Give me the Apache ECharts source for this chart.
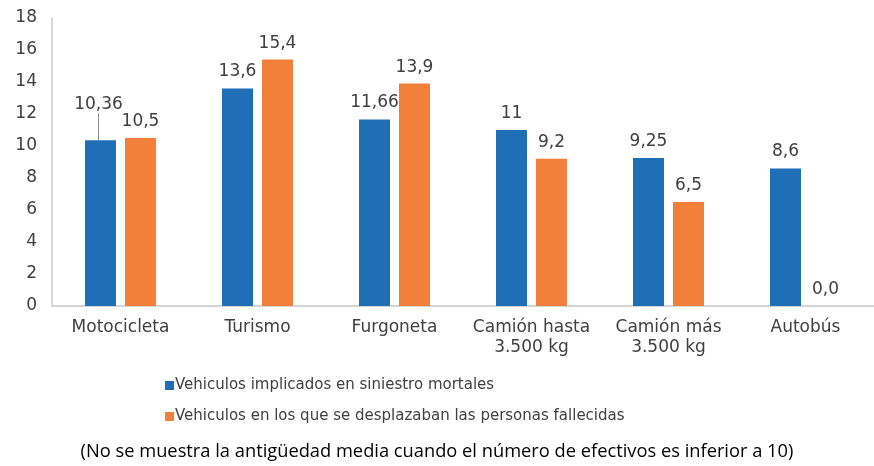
<!DOCTYPE html>
<html>
<head>
<meta charset="utf-8">
<script src="https://cdn.jsdelivr.net/npm/echarts@6/dist/echarts.min.js"></script>
<style>
  html, body { margin: 0; padding: 0; background: #fff; }
  #main { width: 874px; height: 466px; }
</style>
</head>
<body>
<div id="main"></div>
<script>
const categories = ['Motocicleta', 'Turismo', 'Furgoneta', 'Camión hasta\n3.500 kg', 'Camión más\n3.500 kg', 'Autobús'];
const implicados = [10.36, 13.6, 11.66, 11, 9.25, 8.6];
const fallecidos = [10.5, 15.4, 13.9, 9.2, 6.5, 0];
const seriesNames = ['Vehiculos implicados en siniestro mortales', 'Vehiculos en los que se desplazaban las personas fallecidas'];
const note = '(No se muestra la antigüedad media cuando el número de efectivos es inferior a 10)';

const myChart = echarts.init(document.querySelector('#main'));
const font = 'DejaVu Sans, sans-serif';
const labelStyle = { show: true, position: 'top', distance: 8, color: '#404040', fontSize: 17, fontFamily: font };

// first blue label is pulled up with a leader line
const implicadosData = implicados.map((v, i) => i === 0
  ? { value: v, labelLine: { show: true, lineStyle: { color: '#8c8c8c', width: 1 } } }
  : v);

const option = {
  animation: false,
  grid: { left: 52, right: -7, top: 18, bottom: 160 },
  legend: {
    orient: 'vertical',
    left: 160,
    top: 373,
    itemWidth: 9,
    itemHeight: 9,
    itemGap: 16,
    icon: 'rect',
    textStyle: { color: '#404040', fontSize: 15, fontFamily: font, padding: [0, 0, 0, -4] },
    data: seriesNames
  },
  graphic: [{
    type: 'text',
    left: 'center',
    top: 443,
    style: { text: note, fill: '#000', fontSize: 18.3, fontFamily: 'Open Sans, Noto Sans, sans-serif' }
  }],
  xAxis: {
    type: 'category',
    data: categories,
    axisLine: { lineStyle: { color: '#c8c8c8', width: 1.5 } },
    axisTick: { show: false },
    axisLabel: { interval: 0, color: '#404040', fontSize: 17, fontFamily: font, lineHeight: 20, margin: 12 }
  },
  yAxis: {
    type: 'value',
    min: 0,
    max: 18,
    interval: 2,
    axisLine: { show: true, lineStyle: { color: '#c8c8c8', width: 1.5 } },
    axisTick: { show: false },
    splitLine: { show: false },
    axisLabel: { color: '#404040', fontSize: 17, fontFamily: font, margin: 15 }
  },
  series: [
    {
      name: seriesNames[0],
      type: 'bar',
      data: implicadosData,
      barWidth: 31,
      barGap: '29%',
      itemStyle: { color: '#1f6fb7' },
      label: Object.assign({}, labelStyle, {
        formatter: p => String(p.value).replace('.', ',')
      }),
      labelLayout: p => p.dataIndex === 0 ? { dy: -19, dx: -2 } : {}
    },
    {
      name: seriesNames[1],
      type: 'bar',
      data: fallecidos,
      barWidth: 31,
      itemStyle: { color: '#f2803a' },
      label: Object.assign({}, labelStyle, {
        formatter: p => p.value.toFixed(1).replace('.', ',')
      })
    }
  ]
};
option && myChart.setOption(option);
</script>
</body>
</html>
